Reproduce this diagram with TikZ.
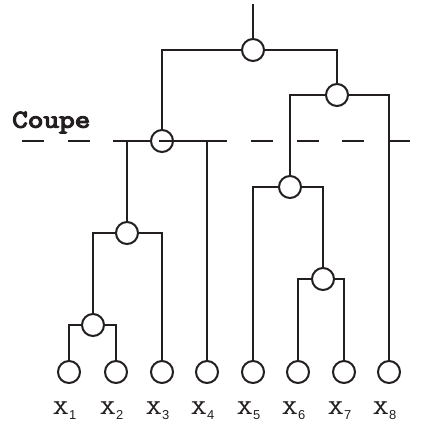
\documentclass[tikz,border=0pt]{standalone}
\usepackage{fontspec}
\newfontfamily\slabfont{lmmono10-regular.otf}
\newfontfamily\slabbold[FakeBold=4]{lmmono10-regular.otf}
\newfontfamily\subfont{Liberation Sans}
\definecolor{ink}{HTML}{231F20}
\begin{document}
\begin{tikzpicture}[x=1bp,y=-1bp,
  vertex/.style={circle, draw=ink, fill=white, line width=2bp, inner sep=0pt, minimum size=22bp},
  link/.style={line width=2bp, draw=ink},
  cut/.style={line width=2bp, draw=ink, dash pattern=on 22bp off 23.8bp},
  leaflabel/.style={anchor=base west, inner sep=0pt, text=ink}]
\useasboundingbox (0,0) rectangle (434,423);

% leaves and their labels
\foreach \i/\x in {1/69,2/116,3/162,4/207,5/253,6/298,7/344,8/389}{
  \node[vertex] (l\i) at (\x,372) {};
  \node[leaflabel] (t\i) at (\x-16.5,414) {\scalebox{1.5}[1]{\fontsize{21}{21}\slabfont X}\raisebox{-6pt}{\fontsize{13}{13}\subfont \i}};
}

% internal nodes
\node[vertex] (n12)   at (93,325) {};
\node[vertex] (n123)  at (127,233) {};
\node[vertex] (ncut)  at (162,141) {};
\node[vertex] (nroot) at (253,50) {};
\node[vertex] (nr)    at (337,95) {};
\node[vertex] (n5)    at (290,187) {};
\node[vertex] (n67)   at (323,279) {};
\coordinate (top) at (253,4);

% branches
\draw[link] (l1) |- (n12);  \draw[link] (l2) |- (n12);
\draw[link] (n12) |- (n123); \draw[link] (l3) |- (n123);
\draw[link] (n123) |- (ncut); \draw[link] (l4) |- (ncut);
\draw[link] (ncut) |- (nroot); \draw[link] (nr) |- (nroot);
\draw[link] (n5) |- (nr); \draw[link] (l8) |- (nr);
\draw[link] (l5) |- (n5); \draw[link] (n67) |- (n5);
\draw[link] (l6) |- (n67); \draw[link] (l7) |- (n67);
\draw[link] (nroot) -- (top);

% cut level
\coordinate (cutL) at (21.7,141);
\coordinate (cutR) at (412,141);
\draw[cut] (cutL) -- (cutR);
\node[anchor=base west, inner sep=0pt, text=ink] (coupe) at (12,127.7) {\scalebox{1.15}[1]{\fontsize{26}{26}\slabbold Coupe}};
\end{tikzpicture}
\end{document}
